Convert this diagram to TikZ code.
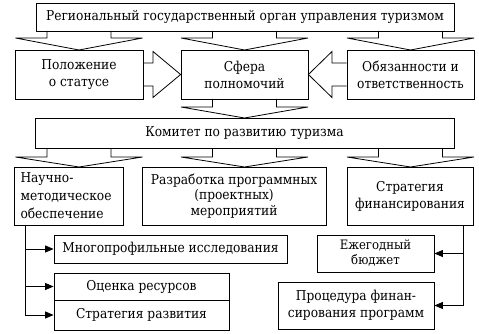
\documentclass[tikz,border=0pt]{standalone}
\usepackage{fontspec}
\setmainfont{DejaVu Serif Condensed}
\usetikzlibrary{arrows.meta}
\begin{document}
\begin{tikzpicture}[x=1pt,y=-1pt,
  box/.style={draw, line width=0.8pt, inner sep=0pt, align=center,
    font=\fontsize{13.6}{17}\selectfont},
  blk/.style={draw, line width=0.8pt, line join=miter},
  arr/.style={draw, line width=0.8pt, -{Triangle[length=8.5pt,width=7pt]}}]
\useasboundingbox (0,0) rectangle (479,334);
% nodes
\node[box, minimum width=418, minimum height=28] (top) at (245,17) {Региональный государственный орган управления туризмом};
\node[box, minimum width=128, minimum height=49] (pol) at (79,74.5) {Положение\\о статусе};
\node[box, minimum width=127, minimum height=49] (sfe) at (244.5,74.5) {Сфера\\полномочий};
\node[box, minimum width=127, minimum height=49] (obz) at (410.5,74.5) {Обязанности и\\ответственность};
\node[box, minimum width=419, minimum height=30] (kom) at (244.5,133) {Комитет по развитию туризма};
\node[box, align=left, text width=96, inner xsep=6.5, minimum height=58, font=\fontsize{13.6}{18}\selectfont] (nau) at (68.5,196) {Научно-\\методическое\\обеспечение};
\node[box, minimum width=184, minimum height=58, font=\fontsize{13.6}{15.5}\selectfont] (raz) at (234,196) {Разработка программных\\(проектных)\\мероприятий};
\node[box, minimum width=126, minimum height=58] (str) at (410,196) {Стратегия\\финансирования};
\node[box, minimum width=233, minimum height=28] (mp) at (170.5,249) {Многопрофильные исследования};
\node[box, minimum width=175, minimum height=27] (oc) at (141.5,286.5) {Оценка ресурсов};
\node[box, minimum width=175, minimum height=30] (sr) at (141.5,315) {Стратегия развития};
\node[box, minimum width=117, minimum height=37, font=\fontsize{13}{15}\selectfont] (ej) at (375.5,253.5) {Ежегодный\\бюджет};
\node[box, minimum width=156, minimum height=47] (pr) at (356,305.5) {Процедура финан-\\сирования программ};
% block arrows down
\foreach \cx/\yt/\yb/\yp in {79/31/38/50, 244.5/31/38/50, 410.5/31/38/50,
   244.5/99/107/118, 79/148/157/167, 244.5/148/157/167, 410.5/148/157/167}{
  \draw[blk] (\cx-32,\yt) -- (\cx-32,\yb) -- (\cx-63.5,\yb) -- (\cx,\yp)
     -- (\cx+63.5,\yb) -- (\cx+32,\yb) -- (\cx+32,\yt);
}
% horizontal block arrows
\draw[blk] (pol.east |- 0,63) -- (153,63) -- (153,51.5) -- (sfe.west) -- (153,97.5) -- (153,86) -- (pol.east |- 0,86);
\draw[blk] (obz.west |- 0,63) -- (332,63) -- (332,51.5) -- (sfe.east) -- (332,97.5) -- (332,86) -- (obz.west |- 0,86);
% thin connectors
\coordinate (L) at (25,225);
\draw[arr] (L) |- (mp.west);
\draw[arr] (L) |- (oc.west);
\draw[arr] (L) |- (sr.west);
\coordinate (R) at (463,225);
\draw[arr] (R) |- (ej.east);
\draw[arr] (R) |- (pr.east);
\end{tikzpicture}
\end{document}
